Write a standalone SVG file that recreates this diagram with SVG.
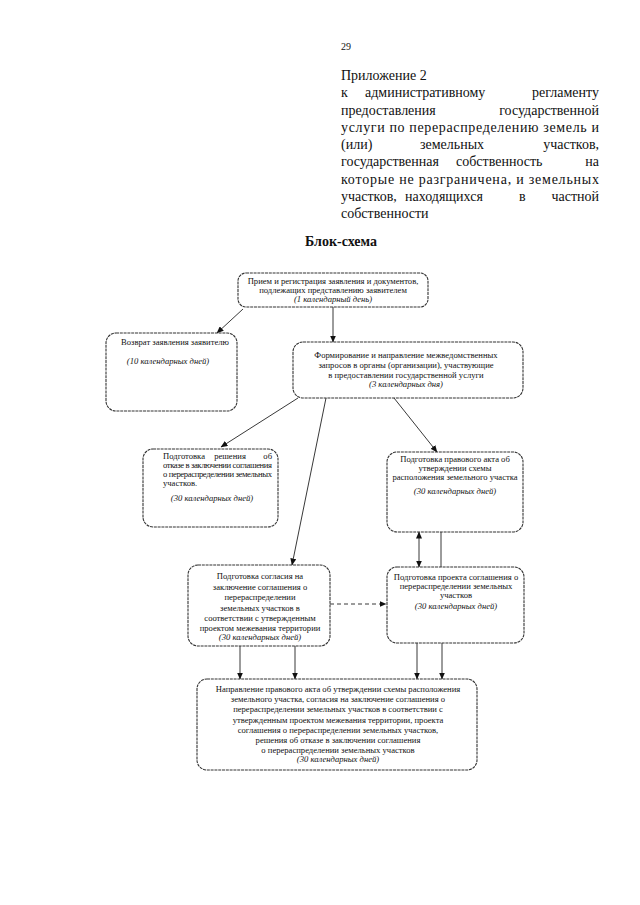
<svg xmlns="http://www.w3.org/2000/svg" width="640" height="905" viewBox="0 0 640 905">
<defs>
<marker id="ah" markerWidth="7" markerHeight="6" refX="6.5" refY="3" orient="auto" markerUnits="userSpaceOnUse">
<path d="M0,0 L7,3 L0,6 Z" fill="#111"/>
</marker>
<marker id="ahs" markerWidth="7" markerHeight="6" refX="0.5" refY="3" orient="auto" markerUnits="userSpaceOnUse">
<path d="M7,0 L0,3 L7,6 Z" fill="#111"/>
</marker>
<style>
.hd{font-family:"Liberation Serif","Times New Roman",serif;font-size:14px;fill:#111}
.t{font-family:"Liberation Serif","Times New Roman",serif;font-size:8.6px;fill:#111;text-anchor:middle}
.tl{font-family:"Liberation Serif","Times New Roman",serif;font-size:8.6px;fill:#111}
.i{font-style:italic}
.box{fill:#fff;stroke:#333;stroke-width:1.1;stroke-dasharray:3 0.8}
.ln{stroke:#222;stroke-width:0.9;fill:none}
</style>
</defs>
<rect width="640" height="905" fill="#fff"/>
<g id="header">
<text x="341" y="50" font-family="Liberation Serif, serif" font-size="10" fill="#111">29</text>
<text class="hd" x="341" y="80">Приложение 2</text>
<text class="hd" x="341" y="97">к</text>
<text class="hd" x="365" y="97">административному</text>
<text class="hd" x="599" y="97" text-anchor="end">регламенту</text>
<text class="hd" x="341" y="114.5">предоставления</text>
<text class="hd" x="599" y="114.5" text-anchor="end">государственной</text>
<text class="hd" x="341" y="132" textLength="258" lengthAdjust="spacing">услуги по перераспределению земель и</text>
<text class="hd" x="341" y="149">(или)</text>
<text class="hd" x="420" y="149">земельных</text>
<text class="hd" x="599" y="149" text-anchor="end">участков,</text>
<text class="hd" x="341" y="166">государственная</text>
<text class="hd" x="456" y="166">собственность</text>
<text class="hd" x="599" y="166" text-anchor="end">на</text>
<text class="hd" x="341" y="183.5" textLength="258" lengthAdjust="spacing">которые не разграничена, и земельных</text>
<text class="hd" x="341" y="201">участков,</text>
<text class="hd" x="405" y="201">находящихся</text>
<text class="hd" x="519" y="201">в</text>
<text class="hd" x="599" y="201" text-anchor="end">частной</text>
<text class="hd" x="341" y="218">собственности</text>
<text class="hd" x="341" y="246" text-anchor="middle" font-weight="bold" font-size="15">Блок-схема</text>
</g>
<g id="connectors">
<line class="ln" x1="243" y1="309" x2="217" y2="333" marker-end="url(#ah)"/>
<line class="ln" x1="333" y1="307" x2="333" y2="342" marker-end="url(#ah)"/>
<line class="ln" x1="298" y1="398" x2="221" y2="447" marker-end="url(#ah)"/>
<line class="ln" x1="326" y1="398" x2="292" y2="565" marker-end="url(#ah)"/>
<line class="ln" x1="394" y1="398" x2="437" y2="452" marker-end="url(#ah)"/>
<line class="ln" x1="419" y1="532" x2="419" y2="567" marker-start="url(#ahs)" marker-end="url(#ah)"/>
<line class="ln" x1="441" y1="532" x2="441" y2="567"/>
<line class="ln" x1="330" y1="604" x2="386" y2="604" stroke-dasharray="4 3" marker-end="url(#ah)"/>
<line class="ln" x1="240" y1="646" x2="240" y2="679" marker-end="url(#ah)"/>
<line class="ln" x1="295" y1="646" x2="295" y2="679" marker-end="url(#ah)"/>
<line class="ln" x1="417" y1="643" x2="417" y2="679" marker-end="url(#ah)"/>
<line class="ln" x1="442" y1="643" x2="442" y2="679" marker-end="url(#ah)"/>
</g>
<g id="n_reception">
<rect class="box" x="238" y="273" width="190" height="34" rx="8"/>
<text class="t" x="333" y="284">Прием и регистрация заявления и документов,</text>
<text class="t" x="333" y="293">подлежащих представлению заявителем</text>
<text class="t i" x="333" y="302">(1 календарный день)</text>
</g>
<g id="n_return">
<rect class="box" x="106" y="333" width="131" height="78" rx="10"/>
<text class="t" x="175" y="345">Возврат заявления заявителю</text>
<text class="t i" x="168" y="364">(10 календарных дней)</text>
</g>
<g id="n_requests">
<rect class="box" x="293" y="342" width="230" height="56" rx="10"/>
<text class="t" x="406" y="358">Формирование и направление межведомственных</text>
<text class="t" x="406" y="368">запросов в органы (организации), участвующие</text>
<text class="t" x="406" y="378">в предоставлении государственной услуги</text>
<text class="t i" x="406" y="387">(3 календарных дня)</text>
</g>
<g id="n_refusal">
<rect class="box" x="143" y="449" width="135" height="78" rx="10"/>
<text class="tl" x="163" y="459">Подготовка</text>
<text class="t" x="230" y="459">решения</text>
<text class="tl" x="272" y="459" text-anchor="end">об</text>
<text class="tl" x="163" y="468" textLength="109" lengthAdjust="spacing">отказе в заключении соглашения</text>
<text class="tl" x="163" y="477" textLength="109" lengthAdjust="spacing">о перераспределении земельных</text>
<text class="tl" x="163" y="486">участков.</text>
<text class="t i" x="212" y="501">(30 календарных дней)</text>
</g>
<g id="n_legal_act">
<rect class="box" x="387" y="452" width="136" height="80" rx="10"/>
<text class="t" x="455" y="462">Подготовка правового акта об</text>
<text class="t" x="455" y="471">утверждении схемы</text>
<text class="t" x="455" y="480">расположения земельного участка</text>
<text class="t i" x="455" y="494">(30 календарных дней)</text>
</g>
<g id="n_consent">
<rect class="box" x="188" y="565" width="142" height="81" rx="10"/>
<text class="t" x="260" y="579">Подготовка согласия на</text>
<text class="t" x="260" y="590">заключение соглашения о</text>
<text class="t" x="260" y="600">перераспределении</text>
<text class="t" x="260" y="611">земельных участков в</text>
<text class="t" x="260" y="621">соответствии с утвержденным</text>
<text class="t" x="260" y="631">проектом межевания территории</text>
<text class="t i" x="260" y="640">(30 календарных дней)</text>
</g>
<g id="n_project">
<rect class="box" x="387" y="567" width="137" height="76" rx="10"/>
<text class="t" x="456" y="580">Подготовка проекта соглашения о</text>
<text class="t" x="456" y="589">перераспределении земельных</text>
<text class="t" x="456" y="598">участков</text>
<text class="t i" x="456" y="609">(30 календарных дней)</text>
</g>
<g id="n_final">
<rect class="box" x="197" y="679" width="280" height="91" rx="10"/>
<text class="t" x="338" y="692">Направление правового акта об утверждении схемы расположения</text>
<text class="t" x="338" y="702">земельного участка, согласия на заключение соглашения о</text>
<text class="t" x="338" y="712">перераспределении земельных участков в соответствии с</text>
<text class="t" x="338" y="723">утвержденным проектом межевания территории, проекта</text>
<text class="t" x="338" y="733">соглашения о перераспределении земельных участков,</text>
<text class="t" x="338" y="743">решения об отказе в заключении соглашения</text>
<text class="t" x="338" y="753">о перераспределении земельных участков</text>
<text class="t i" x="338" y="762">(30 календарных дней)</text>
</g>
</svg>
